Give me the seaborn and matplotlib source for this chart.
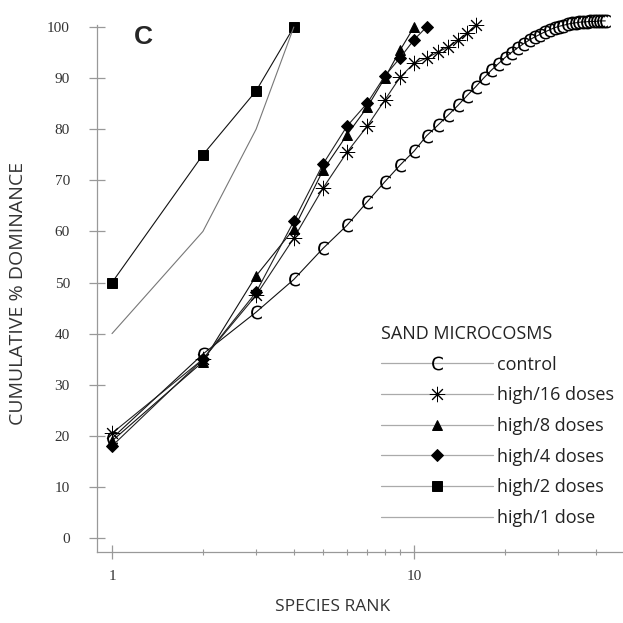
import numpy as np
import pandas as pd
import matplotlib
matplotlib.use("Agg")
import matplotlib.pyplot as plt
import seaborn as sns
from matplotlib.lines import Line2D
from matplotlib.ticker import FixedLocator, NullFormatter, FixedFormatter

# ---- data (cumulative % dominance by species rank) ----
series_names = ["control", "high/16 doses", "high/8 doses",
                "high/4 doses", "high/2 doses", "high/1 dose"]
control = [19.5, 36.0, 44.2, 50.6, 56.7, 61.2, 65.8, 69.7, 73.0, 75.7,
           78.7, 80.8, 82.8, 84.7, 86.6, 88.3, 90.0, 91.5, 92.8, 94.0,
           95.0, 95.9, 96.7, 97.4, 98.0, 98.5, 99.0, 99.4, 99.8, 100.1,
           100.3, 100.5, 100.7, 100.8, 100.9, 101.0, 101.0, 101.1, 101.1,
           101.1, 101.2, 101.2, 101.2]
high16 = [20.5, 35.0, 47.5, 58.7, 68.5, 75.5, 80.6, 85.7, 90.2, 92.9,
          93.9, 95.1, 96.1, 97.5, 98.8, 100.4]
high8 = [19.0, 34.5, 51.3, 60.5, 72.0, 78.9, 84.3, 90.0, 95.5, 100.0]
high4 = [18.0, 35.0, 48.1, 62.0, 73.2, 80.6, 85.1, 90.4, 94.0, 97.5, 100.0]
high2 = [50.0, 75.0, 87.5, 100.0]
high1 = [40.0, 60.0, 80.0, 100.0]
values = [control, high16, high8, high4, high2, high1]

y_ticks = list(range(0, 101, 10))
x_major = [1, 10]
x_major_labels = ["1", "10"]
x_minor = [2, 3, 4, 5, 6, 7, 8, 9, 20, 30, 40]

rows = []
for name, vals in zip(series_names, values):
    for i, v in enumerate(vals):
        rows.append({"series": name, "rank": i + 1, "dominance": v})
df = pd.DataFrame(rows)

# ---- styles ----
markers = {"control": r"$\mathrm{C}$", "high/16 doses": (8, 2, 0),
           "high/8 doses": "^", "high/4 doses": "D",
           "high/2 doses": "s", "high/1 dose": None}
msizes = {"control": 10, "high/16 doses": 11, "high/8 doses": 7,
          "high/4 doses": 6, "high/2 doses": 6.5, "high/1 dose": 0}
medgew = {"control": 0.0, "high/16 doses": 0.7, "high/8 doses": 0.7,
          "high/4 doses": 0.7, "high/2 doses": 0.7, "high/1 dose": 0}
lcolors = {"control": "#111111", "high/16 doses": "#222222",
           "high/8 doses": "#111111", "high/4 doses": "#222222",
           "high/2 doses": "#111111", "high/1 dose": "#777777"}

sns.set_style("white")
plt.rcParams["font.family"] = ["Open Sans", "DejaVu Sans"]

fig = plt.figure(figsize=(6.23, 6.23), dpi=100)
ax = fig.add_axes([97 / 623, 71 / 623, 526 / 623, 527 / 623])
ax.set_xscale("log")

for name in series_names:
    sub = df[df["series"] == name]
    kw = dict(color=lcolors[name], linewidth=0.8, legend=False)
    if markers[name] is not None:
        kw.update(marker=markers[name], markersize=msizes[name],
                  markerfacecolor="black", markeredgecolor="black",
                  markeredgewidth=medgew[name])
    sns.lineplot(data=sub, x="rank", y="dominance", ax=ax, **kw)

for ln in ax.lines:
    ln.set_clip_on(False)

ax.set_xlim(10 ** (-15 / 302), 10 ** (511 / 302))
ax.set_ylim(-2.74, 100.4)

# spines
for s in ["top", "right"]:
    ax.spines[s].set_visible(False)
for s in ["left", "bottom"]:
    ax.spines[s].set_color("#999999")
    ax.spines[s].set_linewidth(0.9)

# ticks
ax.tick_params(which="both", left=True, bottom=True)
ax.yaxis.set_major_locator(FixedLocator(y_ticks))
ax.set_yticklabels([str(t) for t in y_ticks], family="Liberation Serif",
                   fontsize=11, color="#333333")
ax.tick_params(axis="y", which="major", direction="inout", length=11,
               width=0.9, color="#999999", pad=14)
ax.xaxis.set_major_locator(FixedLocator(x_major))
ax.xaxis.set_major_formatter(FixedFormatter(x_major_labels))
ax.xaxis.set_minor_locator(FixedLocator(x_minor))
ax.xaxis.set_minor_formatter(NullFormatter())
for lbl in ax.get_xticklabels():
    lbl.set_family("Liberation Serif")
ax.tick_params(axis="x", which="major", direction="inout", length=10,
               width=0.9, color="#999999", pad=8, labelsize=11,
               labelcolor="#333333")
ax.tick_params(axis="x", which="minor", direction="inout", length=4,
               width=0.8, color="#999999")
ax.set_xlabel("")
ax.set_ylabel("")

fig.text(18 / 623, 1 - 293 / 623, "CUMULATIVE % DOMINANCE", rotation=90,
         ha="center", va="center", fontsize=14, color="#333333")
fig.text(333 / 623, 1 - 607 / 623, "SPECIES RANK", ha="center",
         va="center", fontsize=12.5, color="#333333")
fig.text(143 / 623, 1 - 37 / 623, "C", ha="center", va="center",
         fontsize=19, fontweight="bold", family="Liberation Sans")

# legend
handles = []
for name in series_names:
    if markers[name] is None:
        h = Line2D([], [], color="#aaaaaa", linewidth=0.9)
    else:
        h = Line2D([], [], color="#aaaaaa", linewidth=0.9,
                   marker=markers[name], markersize=msizes[name],
                   markerfacecolor="black", markeredgecolor="black",
                   markeredgewidth=medgew[name])
    handles.append(h)
leg = ax.legend(handles, series_names, title="SAND MICROCOSMS",
                loc="upper left", bbox_to_anchor=(381 / 623, 1 - 325 / 623),
                bbox_transform=fig.transFigure, frameon=False, fontsize=13,
                title_fontsize=13, handlelength=6.2, handletextpad=0.2,
                labelspacing=0.70, borderpad=0, borderaxespad=0,
                alignment="left")
for t in leg.get_texts():
    t.set_color("#222222")
leg.get_title().set_color("#222222")

fig.savefig("out.png", dpi=100, facecolor="white")
